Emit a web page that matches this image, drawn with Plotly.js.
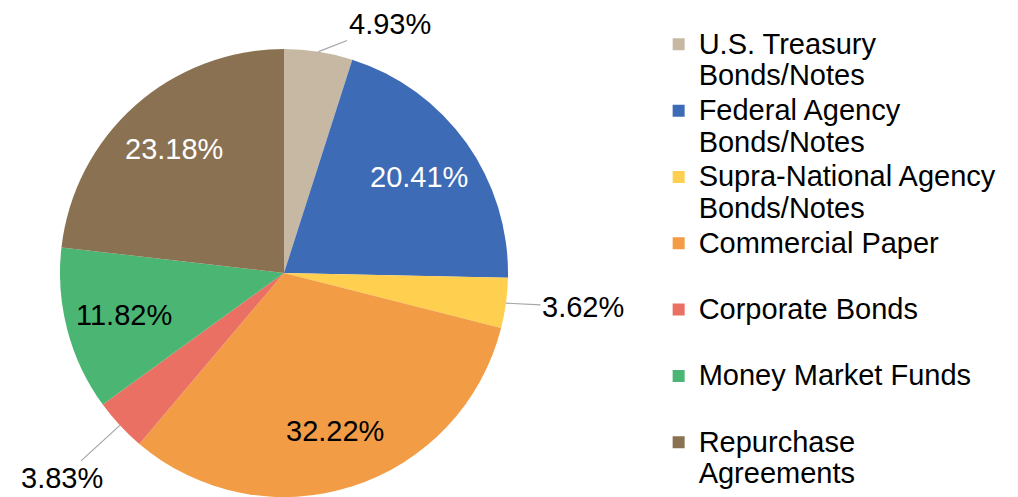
<!DOCTYPE html>
<html>
<head>
<meta charset="utf-8">
<script src="https://cdn.plot.ly/plotly-3.0.1.min.js"></script>
<style>html,body{margin:0;padding:0;background:#fff;}#chart{width:1018px;height:497px;}</style>
</head>
<body>
<div id="chart"></div>
<script>
// ---- data ----
const categories = [
  "U.S. Treasury<br>Bonds/Notes",
  "Federal Agency<br>Bonds/Notes",
  "Supra-National Agency<br>Bonds/Notes",
  "Commercial Paper",
  "Corporate Bonds",
  "Money Market Funds",
  "Repurchase<br>Agreements"
];
const shares = [4.93, 20.41, 3.62, 32.22, 3.83, 11.82, 23.18];
const sliceColors = ["#C6B8A3", "#3D6BB5", "#FFCF50", "#F39C46", "#E97062", "#4BB573", "#8A7152"];
const textColors = ["#000", "#fff", "#000", "#000", "#000", "#000", "#fff"];
// label offsets (px) for callout labels of small slices, keyed by slice index
const calloutOffsets = {0: [71, -28], 2: [77, 4], 4: [-58, 53]};

// ---- layout geometry ----
const W = 1018, H = 497;
const R = 224, CX = 284, CY = 273;
const INSIDE_R = 0.74;
const FONT = "Liberation Sans, Arial, sans-serif";

// every legend entry takes two lines, like the reference
const legendLabels = categories.map(c =>
  '<span style="font-size:29px">' + (c.indexOf("<br>") >= 0 ? c : c + "<br>\u00a0") + "</span>");

const total = shares.reduce((a, b) => a + b, 0);
const annotations = [];
let cum = 0;
shares.forEach((v, i) => {
  const mid = (cum + v / 2) / total * 2 * Math.PI;
  cum += v;
  const txt = v.toFixed(2) + "%";
  if (calloutOffsets[i]) {
    const px = CX + R * Math.sin(mid);
    const py = CY - R * Math.cos(mid);
    annotations.push({
      x: px / W, y: (H - py) / H, xref: "paper", yref: "paper",
      text: txt,
      showarrow: true, arrowhead: 0, arrowwidth: 1.2, arrowcolor: "#A6A6A6",
      ax: calloutOffsets[i][0], ay: calloutOffsets[i][1],
      font: {family: FONT, size: 29, color: "#000"}
    });
  } else {
    const px = CX + INSIDE_R * R * Math.sin(mid);
    const py = CY - INSIDE_R * R * Math.cos(mid);
    annotations.push({
      x: px / W, y: (H - py) / H, xref: "paper", yref: "paper",
      xanchor: "center", yanchor: "middle",
      text: txt, showarrow: false,
      font: {family: FONT, size: 29, color: textColors[i]}
    });
  }
});

const trace = {
  type: "pie",
  labels: legendLabels,
  values: shares,
  sort: false,
  direction: "clockwise",
  rotation: 0,
  marker: {colors: sliceColors, line: {width: 0}},
  textinfo: "none",
  hoverinfo: "label+percent",
  domain: {x: [(CX - R) / W, (CX + R) / W], y: [0, 2 * R / H]}
};

const layout = {
  width: W, height: H,
  margin: {l: 0, r: 0, t: 0, b: 0},
  paper_bgcolor: "#fff",
  showlegend: true,
  legend: {
    x: 0.647, y: 0.938, xanchor: "left", yanchor: "top",
    font: {family: FONT, size: 24.35, color: "#000"},
    valign: "top",
    itemwidth: 30,
    bgcolor: "rgba(0,0,0,0)"
  },
  annotations: annotations
};

Plotly.newPlot("chart", [trace], layout, {displayModeBar: false, staticPlot: true});
</script>
</body>
</html>
